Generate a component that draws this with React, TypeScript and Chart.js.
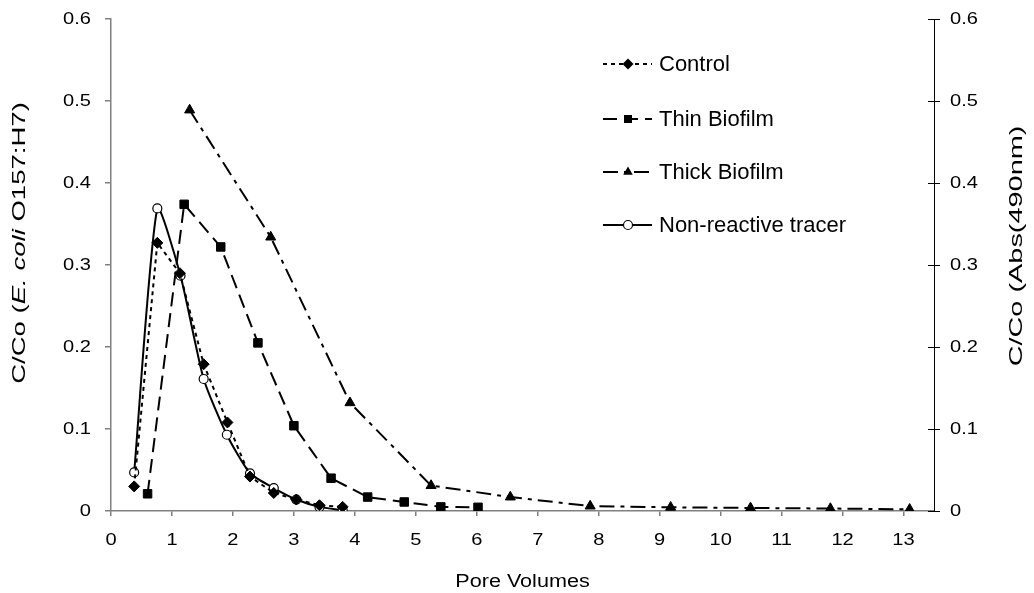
import { useEffect, useRef } from 'react';
import { Chart, registerables } from 'chart.js';

Chart.register(...registerables);

// Breakthrough data: pore volumes (x) vs relative concentration C/Co (y)
const controlX = [0.38, 0.76, 1.13, 1.52, 1.91, 2.28, 2.67, 3.04, 3.42, 3.8];
const controlY = [0.03, 0.327, 0.29, 0.179, 0.108, 0.042, 0.022, 0.014, 0.007, 0.005];

const thinX = [0.6, 1.2, 1.8, 2.41, 3.0, 3.61, 4.21, 4.81, 5.41, 6.02];
const thinY = [0.021, 0.374, 0.322, 0.205, 0.104, 0.04, 0.017, 0.011, 0.005, 0.0045];

const thickX = [1.29, 2.62, 3.92, 5.25, 6.55, 7.86, 9.18, 10.49, 11.8, 13.1];
const thickY = [0.489, 0.334, 0.132, 0.031, 0.017, 0.006, 0.0045, 0.0037, 0.003, 0.002];

const tracerX = [0.38, 0.76, 1.14, 1.52, 1.9, 2.28, 2.67, 3.04, 3.42, 3.8];
const tracerY = [0.047, 0.369, 0.287, 0.161, 0.093, 0.046, 0.028, 0.014, 0.005, 0.001];

const seriesLabels = ['Control', 'Thin Biofilm', 'Thick Biofilm', 'Non-reactive tracer'];
const xTitle = 'Pore Volumes';
const yLeftTitleParts = ['C/Co (', 'E. coli', ' O157:H7)'];
const yRightTitle = 'C/Co (Abs(490nm)';

const FONT = '"Liberation Sans", Arial, Helvetica, sans-serif';
const TICK_SIZE = 17;
const TICK_STRETCH = 1.18;
const LEGEND_SIZE = 22;
const TITLE_SIZE = 18;
const Y_TITLE_SIZE = 19;
const X_TITLE_STRETCH = 1.2;
const Y_TITLE_STRETCH = 1.45;
const Y2_TITLE_STRETCH = 1.52;

const toPoints = (xs: number[], ys: number[]) => xs.map((x, i) => ({ x, y: ys[i] }));

const dashes: number[][] = [[4, 4], [14, 7], [15, 6, 4, 6], []];
const markers = ['rectRot', 'rect', 'triangle', 'circle'];

const fmt = (v: number) => String(Math.round(v * 10) / 10);

function drawMarker(ctx: CanvasRenderingContext2D, style: string, x: number, y: number) {
  ctx.save();
  ctx.setLineDash([]);
  ctx.fillStyle = '#000';
  ctx.strokeStyle = '#000';
  ctx.beginPath();
  if (style === 'rectRot') {
    const r = 5.5;
    ctx.moveTo(x, y - r);
    ctx.lineTo(x + r, y);
    ctx.lineTo(x, y + r);
    ctx.lineTo(x - r, y);
    ctx.closePath();
    ctx.fill();
  } else if (style === 'rect') {
    const h = 4;
    ctx.rect(x - h, y - h, 2 * h, 2 * h);
    ctx.fill();
  } else if (style === 'triangle') {
    const r = 5.5;
    ctx.moveTo(x, y - r);
    ctx.lineTo(x + r * 0.87, y + r * 0.5);
    ctx.lineTo(x - r * 0.87, y + r * 0.5);
    ctx.closePath();
    ctx.fill();
  } else {
    ctx.arc(x, y, 4.5, 0, Math.PI * 2);
    ctx.fillStyle = '#fff';
    ctx.fill();
    ctx.lineWidth = 1.2;
    ctx.stroke();
  }
  ctx.restore();
}

// text drawn with a horizontal stretch factor (in its own frame)
function stretchedText(
  ctx: CanvasRenderingContext2D,
  text: string,
  x: number,
  y: number,
  align: CanvasTextAlign,
  sx: number,
) {
  ctx.save();
  ctx.translate(x, y);
  ctx.scale(sx, 1);
  ctx.textAlign = align;
  ctx.fillText(text, 0, 0);
  ctx.restore();
}

// Tick labels, axis titles, in-plot legend and inward ticks of the right axis
const decorations = {
  id: 'decorations',
  afterDraw(chart: any) {
    const ctx: CanvasRenderingContext2D = chart.ctx;
    const area = chart.chartArea;
    const xs = chart.scales.x;
    const yl = chart.scales.y;
    const yr = chart.scales.y2;

    ctx.save();
    ctx.fillStyle = '#000';
    ctx.textBaseline = 'middle';

    // tick labels
    ctx.font = `${TICK_SIZE}px ${FONT}`;
    xs.ticks.forEach((t: any) => {
      stretchedText(ctx, fmt(t.value), xs.getPixelForValue(t.value), 540, 'center', TICK_STRETCH);
    });
    yl.ticks.forEach((t: any) => {
      stretchedText(ctx, fmt(t.value), 91, yl.getPixelForValue(t.value), 'right', TICK_STRETCH);
    });
    yr.ticks.forEach((t: any) => {
      stretchedText(ctx, fmt(t.value), 950, yr.getPixelForValue(t.value), 'left', TICK_STRETCH);
    });

    // x title
    ctx.font = `${TITLE_SIZE}px ${FONT}`;
    stretchedText(ctx, xTitle, (area.left + area.right) / 2, 582, 'center', X_TITLE_STRETCH);

    // left title with italic species name
    ctx.save();
    ctx.translate(20, 243);
    ctx.rotate(-Math.PI / 2);
    ctx.scale(Y_TITLE_STRETCH, 1);
    const fonts = [
      `${Y_TITLE_SIZE}px ${FONT}`,
      `italic ${Y_TITLE_SIZE}px ${FONT}`,
      `${Y_TITLE_SIZE}px ${FONT}`,
    ];
    let total = 0;
    const widths = yLeftTitleParts.map((p, i) => {
      ctx.font = fonts[i];
      const w = ctx.measureText(p).width;
      total += w;
      return w;
    });
    let cx = -total / 2;
    ctx.textAlign = 'left';
    yLeftTitleParts.forEach((p, i) => {
      ctx.font = fonts[i];
      ctx.fillText(p, cx, 0);
      cx += widths[i];
    });
    ctx.restore();

    // right title
    ctx.save();
    ctx.translate(1017, 246);
    ctx.rotate(-Math.PI / 2);
    ctx.scale(Y2_TITLE_STRETCH, 1);
    ctx.font = `${Y_TITLE_SIZE}px ${FONT}`;
    ctx.textAlign = 'center';
    ctx.fillText(yRightTitle, 0, 0);
    ctx.restore();

    // inward tick marks on the right axis
    ctx.strokeStyle = '#000';
    ctx.lineWidth = 1;
    yr.ticks.forEach((t: any) => {
      const py = Math.round(yr.getPixelForValue(t.value)) + 0.5;
      ctx.beginPath();
      ctx.moveTo(area.right - 6, py);
      ctx.lineTo(area.right, py);
      ctx.stroke();
    });

    // legend
    const rows = [64, 119, 172, 225];
    ctx.font = `${LEGEND_SIZE}px ${FONT}`;
    ctx.textAlign = 'left';
    seriesLabels.forEach((label, i) => {
      const y = rows[i];
      ctx.save();
      ctx.strokeStyle = '#000';
      ctx.lineWidth = 2;
      ctx.setLineDash(dashes[i]);
      ctx.beginPath();
      ctx.moveTo(603, y);
      ctx.lineTo(652, y);
      ctx.stroke();
      ctx.restore();
      drawMarker(ctx, markers[i], 628, y);
      ctx.fillStyle = '#000';
      ctx.fillText(label, 659, y + 1);
    });

    ctx.restore();
  },
};

export default function App() {
  const canvasRef = useRef<HTMLCanvasElement | null>(null);

  useEffect(() => {
    const canvas = canvasRef.current;
    if (!canvas) return;

    const common = {
      borderColor: '#000',
      backgroundColor: '#000',
      borderWidth: 2,
      pointBorderColor: '#000',
      pointBorderWidth: 1,
      showLine: true,
      fill: false,
    };

    const chart = new Chart(canvas, {
      type: 'scatter',
      data: {
        datasets: [
          {
            ...common,
            label: seriesLabels[0],
            data: toPoints(controlX, controlY),
            borderDash: dashes[0],
            pointStyle: 'rectRot',
            pointRadius: 5.5,
            pointBackgroundColor: '#000',
          },
          {
            ...common,
            label: seriesLabels[1],
            data: toPoints(thinX, thinY),
            borderDash: dashes[1],
            pointStyle: 'rect',
            pointRadius: 6,
            pointBackgroundColor: '#000',
          },
          {
            ...common,
            label: seriesLabels[2],
            data: toPoints(thickX, thickY),
            borderDash: dashes[2],
            pointStyle: 'triangle',
            pointRadius: 5.8,
            pointBackgroundColor: '#000',
          },
          {
            ...common,
            label: seriesLabels[3],
            data: toPoints(tracerX, tracerY),
            borderDash: dashes[3],
            tension: 0.2,
            pointStyle: 'circle',
            pointRadius: 4.5,
            pointBorderWidth: 1.2,
            pointBackgroundColor: '#fff',
          },
        ],
      } as any,
      options: {
        responsive: false,
        maintainAspectRatio: false,
        animation: false,
        layout: { padding: { top: 19, left: 0, right: 0, bottom: 0 } },
        plugins: {
          legend: { display: false },
          tooltip: { enabled: false },
        },
        scales: {
          x: {
            type: 'linear',
            position: 'bottom',
            min: 0,
            max: 13.5,
            afterFit: (s: any) => {
              s.height = 82;
            },
            ticks: { stepSize: 1, includeBounds: false, display: false },
            grid: { drawOnChartArea: false, drawTicks: true, tickLength: 5, color: '#808080', lineWidth: 1.5 },
            border: { color: '#808080', width: 1.5 },
          },
          y: {
            type: 'linear',
            position: 'left',
            min: 0,
            max: 0.6,
            afterFit: (s: any) => {
              s.width = 111;
            },
            ticks: { stepSize: 0.1, display: false },
            grid: { drawOnChartArea: false, drawTicks: true, tickLength: 6, color: '#808080', lineWidth: 1.5 },
            border: { color: '#808080', width: 1.5 },
          },
          y2: {
            type: 'linear',
            position: 'right',
            min: 0,
            max: 0.6,
            afterFit: (s: any) => {
              s.width = 100;
            },
            ticks: { stepSize: 0.1, display: false },
            grid: { drawOnChartArea: false, drawTicks: true, tickLength: 6, color: '#000', lineWidth: 1 },
            border: { color: '#000', width: 1 },
          },
        },
      } as any,
      plugins: [decorations],
    });

    return () => chart.destroy();
  }, []);

  return (
    <div style={{ position: 'absolute', left: 0, top: 0, width: 1034, height: 593, background: '#fff' }}>
      <canvas ref={canvasRef} width={1034} height={593} style={{ display: 'block' }} />
    </div>
  );
}
